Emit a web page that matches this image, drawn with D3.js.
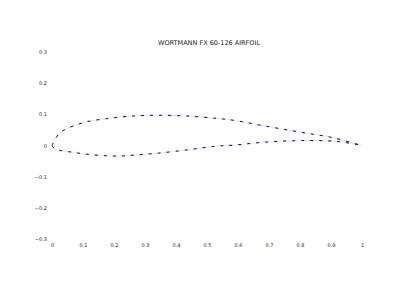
<!DOCTYPE html>
<html>
<head>
<meta charset="utf-8">
<script src="https://cdn.jsdelivr.net/npm/d3@7"></script>
<style>
  body { margin: 0; background: #fff; }
  .axis text { font-family: 'DejaVu Sans', sans-serif; font-size: 5px; fill: #222; }
</style>
</head>
<body>
<svg id="chart" width="400" height="300"></svg>
<script>
// upper / lower surface
const upperX = [0, 0.026, 0.10, 0.176, 0.25, 0.34, 0.445, 0.53, 0.585, 0.69, 0.80, 0.906, 1.0]
const upperY = [0, 0.041, 0.073, 0.086, 0.094, 0.097, 0.094, 0.087, 0.081, 0.062, 0.043, 0.025, 0.0]
const lowerX = [0, 0.01, 0.069, 0.123, 0.21, 0.262, 0.338, 0.445, 0.53, 0.585, 0.69, 0.83, 0.93, 1.0]
const lowerY = [0, -0.011, -0.022, -0.029, -0.034, -0.031, -0.025, -0.013, -0.002, 0.001, 0.011, 0.016, 0.012, 0.0]
const xTicks = [0, 0.1, 0.2, 0.3, 0.4, 0.5, 0.6, 0.7, 0.8, 0.9, 1]
const yTicks = [-0.3, -0.2, -0.1, 0, 0.1, 0.2, 0.3]
const title = 'WORTMANN FX 60-126 AIRFOIL'

const svg = d3.select('#chart')
const x = d3.scaleLinear().domain([0, 1]).range([52, 362])
const y = d3.scaleLinear().domain([-0.3, 0.3]).range([239, 52])

const fmt = d => (d === 0 || d === 1 ? String(d) : d3.format('.1f')(d))

// x 轴标签
const xAxisG = svg.append('g').attr('class', 'axis').attr('transform', 'translate(0,243)')
  .call(d3.axisBottom(x).tickValues(xTicks).tickSize(0).tickPadding(0).tickFormat(fmt))
xAxisG.select('.domain').remove()

// y 轴标签
const yAxisG = svg.append('g').attr('class', 'axis').attr('transform', 'translate(49,0)')
  .call(d3.axisLeft(y).tickValues(yTicks).tickSize(0).tickPadding(2).tickFormat(fmt))
yAxisG.select('.domain').remove()

// 标题
svg.append('text')
  .attr('x', 209).attr('y', 45)
  .attr('text-anchor', 'middle')
  .attr('font-family', 'DejaVu Sans, sans-serif')
  .attr('font-size', 6.5)
  .attr('fill', '#222')
  .text(title)

const line = d3.line().x(d => x(d[0])).y(d => y(d[1])).curve(d3.curveCatmullRom)
const upper = upperX.map((v, i) => [v, upperY[i]])
const lower = lowerX.map((v, i) => [v, lowerY[i]])

for (const pts of [upper, lower]) {
  svg.append('path').datum(pts).attr('d', line)
    .attr('fill', 'none').attr('stroke', '#e4e4f6').attr('stroke-width', 1)
  svg.append('path').datum(pts).attr('d', line)
    .attr('fill', 'none').attr('stroke', '#000080').attr('stroke-width', 1)
    .attr('stroke-dasharray', '3,6')
}
</script>
</body>
</html>
